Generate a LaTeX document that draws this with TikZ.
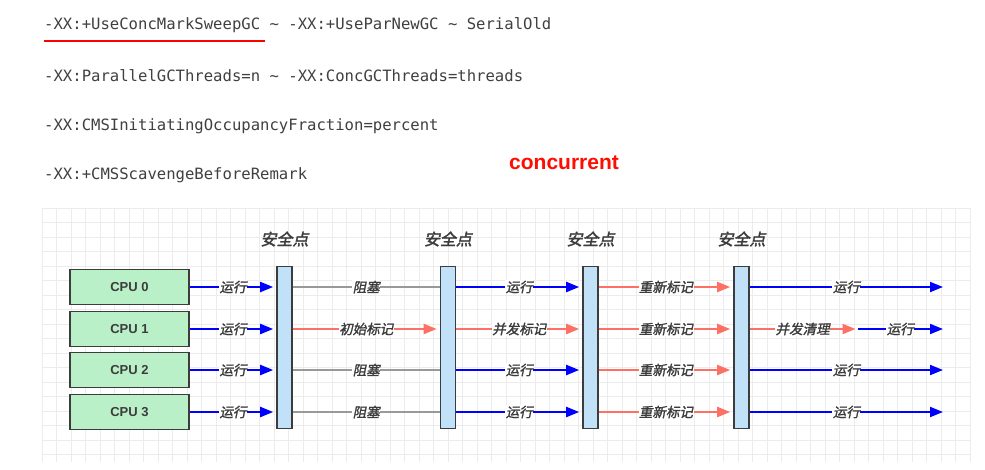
\documentclass[tikz,border=0pt]{standalone}
\usepackage{fontspec}
\setmainfont{Liberation Sans}
\newfontfamily\codefont{DejaVu Sans Mono}
\newfontfamily\cjkfont[FakeSlant=0.2,FakeBold=1.6]{Noto Sans CJK SC}
\newfontfamily\cjkbold[FakeSlant=0.2,FakeBold=2.2]{Noto Sans CJK SC}
\usetikzlibrary{arrows.meta}
\definecolor{cpugreen}{RGB}{185,240,200}
\definecolor{barblue}{RGB}{192,225,248}
\definecolor{salmon}{RGB}{255,112,100}
\definecolor{edgegray}{RGB}{60,60,60}
\definecolor{codegray}{RGB}{64,64,64}
\definecolor{gridgray}{RGB}{236,236,236}
\begin{document}
\begin{tikzpicture}[x=1pt,y=-1pt,
    cpubox/.style={draw=edgegray,line width=1.6pt,fill=cpugreen,minimum width=119,minimum height=35,
      font=\bfseries\fontsize{13}{15}\selectfont,text=edgegray},
    safebar/.style={draw=edgegray,line width=1.6pt,fill=barblue,minimum width=15,minimum height=162,inner sep=0},
    sptitle/.style={font=\cjkbold\fontsize{16}{18}\selectfont,text=edgegray},
    codeline/.style={anchor=west,inner sep=0,font=\codefont\fontsize{15.6}{18}\selectfont,text=codegray},
    lbl/.style={midway,fill=white,inner sep=0.5pt,font=\cjkfont\fontsize{13.5}{15}\selectfont,text=edgegray},
    runline/.style={blue,line width=2pt,-{Triangle[length=13pt,width=10pt]},shorten >=3pt},
    gcline/.style={salmon,line width=2pt,-{Triangle[length=13pt,width=10pt]},shorten >=3pt},
    blockline/.style={gray!80,line width=1.8pt},
    gridline/.style={gridgray,line width=0.6pt}]
    \useasboundingbox[fill=white] (0,0) rectangle (985,469);
    % 参数
    \node[codeline] (opt1) at (44,25) {-XX:+UseConcMarkSweepGC \char`\~{} -XX:+UseParNewGC \char`\~{} SerialOld};
    \node[codeline] (opt2) at (44,76) {-XX:ParallelGCThreads=n \char`\~{} -XX:ConcGCThreads=threads};
    \node[codeline] (opt3) at (44,126) {-XX:CMSInitiatingOccupancyFraction=percent};
    \node[codeline] (opt4) at (44,175) {-XX:+CMSScavengeBeforeRemark};
    \draw[red,line width=2.2pt] (44,41) -- (265,41);
    \node[font=\bfseries\fontsize{21}{24}\selectfont,text=red!90!orange] (conc) at (564,163) {concurrent};
    % 网格
    \foreach \gx in {0,...,64}
    \draw[gridline] ({42+14.5*\gx},208) -- ({42+14.5*\gx},462);
    \foreach \gy in {0,...,17}
    \draw[gridline] (42,{208+14.5*\gy}) -- (970,{208+14.5*\gy});
    % CPU
    \foreach \i/\y in {0/287,1/329,2/370,3/412}
    \node[cpubox] (cpu\i) at (129.5,\y) {CPU \i};
    % 安全点
    \foreach \i/\x in {1/284.5,2/448,3/590.5,4/741.5} {
        \node[safebar] (sp\i) at (\x,347.5) {};
        \node[sptitle] (spt\i) at (\x,239) {安全点};
      }
    % 各线程状态
    \foreach \i/\sa/\la/\sb/\lb in {0/blockline/阻塞/runline/运行, 1/gcline/初始标记/gcline/并发标记,
        2/blockline/阻塞/runline/运行, 3/blockline/阻塞/runline/运行} {
        \path (cpu\i) ++(813.5,0) coordinate (end\i);
        \draw[runline] (cpu\i.east) -- (cpu\i -| sp1.west) node[lbl] {运行};
        \draw[\sa] (cpu\i -| sp1.east) -- (cpu\i -| sp2.west) node[lbl] {\la};
        \draw[\sb] (cpu\i -| sp2.east) -- (cpu\i -| sp3.west) node[lbl] {\lb};
        \draw[gcline] (cpu\i -| sp3.east) -- (cpu\i -| sp4.west) node[lbl] {重新标记};
      }
    \foreach \i in {0,2,3}
    \draw[runline,shorten >=0pt] (cpu\i -| sp4.east) -- (end\i) node[lbl] {运行};
    % 并发清理
    \path (cpu1) ++(726,0) coordinate (sweep1);
    \draw[gcline,shorten >=0pt] (cpu1 -| sp4.east) -- (sweep1) node[lbl] {并发清理};
    \draw[runline,shorten >=0pt] (sweep1) ++(2,0) -- (end1) node[lbl] {运行};
  \end{tikzpicture}
\end{document}
